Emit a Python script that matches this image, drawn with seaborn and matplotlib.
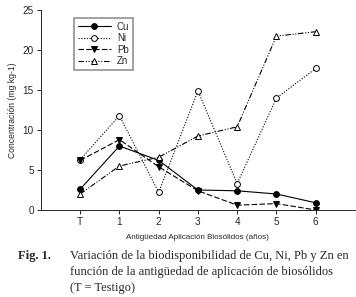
import numpy as np
import pandas as pd
import matplotlib
matplotlib.use("Agg")
import matplotlib.pyplot as plt
import seaborn as sns

categories = ["T", "1", "2", "3", "4", "5", "6"]
cu = [2.6, 8.0, 6.2, 2.5, 2.4, 2.0, 0.9]
ni = [6.3, 11.8, 2.2, 14.9, 3.3, 14.0, 17.7]
pb = [6.2, 8.8, 5.4, 2.4, 0.6, 0.8, 0.0]
zn = [2.0, 5.5, 6.6, 9.25, 10.4, 21.75, 22.3]

sns.set_style("ticks")
plt.rcParams['font.family'] = ['Liberation Sans', 'DejaVu Sans']

fig = plt.figure(figsize=(3.56, 2.97), dpi=100)
ax = fig.add_axes([0.115, 0.293, 0.882, 0.673])

pos = np.arange(len(categories))
series = [
    ("Cu", cu, "-", "o", "black"),
    ("Ni", ni, (0, (1, 1.5)), "o", "white"),
    ("Pb", pb, (0, (5, 2)), "v", "black"),
    ("Zn", zn, (0, (5, 1.5, 1, 1.5, 1, 1.5)), "^", "white"),
]
for name, vals, ls, mk, fc in series:
    df = pd.DataFrame({"x": pos, "y": vals})
    sns.lineplot(data=df, x="x", y="y", ax=ax, color="black", linewidth=0.8,
                 linestyle=ls, marker=mk, markersize=4.2, markerfacecolor=fc,
                 markeredgecolor="black", markeredgewidth=0.7, label=name)

ax.set_xlim(-1, 7)
ax.set_ylim(0, 25)
ax.set_xticks(pos)
ax.set_xticklabels(categories)
ax.set_yticks([0, 5, 10, 15, 20, 25])
ax.tick_params(labelsize=7.2, length=3, width=0.7, pad=2)
for s in ["top", "right"]:
    ax.spines[s].set_visible(False)
for s in ["left", "bottom"]:
    ax.spines[s].set_linewidth(0.7)
ax.set_xlabel("Antigüedad Aplicación Biosólidos (años)", fontsize=5.8, labelpad=5)
ax.set_ylabel("Concentración (mg kg-1)", fontsize=6.2, labelpad=4)

leg = ax.legend(loc="upper left", bbox_to_anchor=(0.09, 0.985), fontsize=7,
                frameon=True, fancybox=False, handlelength=3.4, borderpad=0.4,
                labelspacing=0.15, handletextpad=0.6)
leg.get_frame().set_edgecolor("#777777")
leg.get_frame().set_linewidth(1.2)

cap = dict(fontsize=9.0, family=["Liberation Serif"])
fig.text(0.05, 0.128, "Fig. 1.", fontweight="bold", **cap)
fig.text(0.197, 0.128, "Variación de la biodisponibilidad de Cu, Ni, Pb y Zn en", **cap)
fig.text(0.197, 0.074, "función de la antigüedad de aplicación de biosólidos", **cap)
fig.text(0.197, 0.020, "(T = Testigo)", **cap)

fig.savefig("out.png", dpi=100)
